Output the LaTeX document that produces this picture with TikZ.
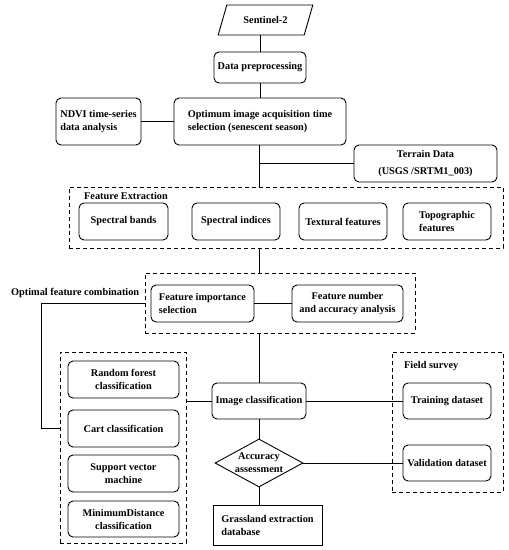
\documentclass[tikz,border=0pt]{standalone}
\usepackage{fontspec}
\setmainfont{Liberation Serif}
\usetikzlibrary{shapes.geometric}
\tikzset{
  every node/.style={font=\fontsize{10.3}{13}\selectfont\bfseries},
  box/.style={draw, line width=0.9pt, rounded corners=5pt, align=center, inner sep=2pt},
  sqbox/.style={draw, line width=0.9pt, align=left, inner sep=2pt},
  dbox/.style={draw, line width=0.9pt, dash pattern=on 4pt off 3pt, inner sep=0pt},
  lbl/.style={anchor=west, inner sep=0pt},
  conn/.style={line width=0.9pt},
}
\begin{document}
\begin{tikzpicture}[x=1pt, y=-1pt]
\useasboundingbox (0,0) rectangle (509,550);
\coordinate (tk) at (259,0);
\coordinate (ofcx) at (41,0);
% top chain
\node[trapezium, draw, line width=0.9pt, trapezium stretches=true, trapezium left angle=56, trapezium right angle=124, minimum width=95, minimum height=30, inner sep=0pt] (sent) at (265.5,20) {Sentinel-2};
\node[box, minimum width=92, minimum height=31] (prep) at (260,67.5) {Data preprocessing};
\node[box, minimum width=172, minimum height=47, align=left] (opt) at (260,121.5) {Optimum image acquisition time\\selection (senescent season)};
\node[box, minimum width=85, minimum height=47, align=left] (ndvi) at (98.5,121.5) {NDVI time-series\\data analysis};
\node[box, minimum width=143, minimum height=37, align=center, font=\fontsize{10.3}{17}\selectfont\bfseries] (terr) at (425.5,163.5) {Terrain Data\\(USGS /SRTM1\_003)};
% feature extraction
\node[dbox, minimum width=434, minimum height=61] (fe) at (286,217.5) {};
\node[lbl] (fel) at (84,196) {Feature Extraction};
\node[box, minimum width=89, minimum height=37] (sb) at (123.5,221.5) {Spectral bands};
\node[box, minimum width=88, minimum height=37] (si) at (236,221.5) {Spectral indices};
\node[box, minimum width=88, minimum height=37] (tf) at (343,221.5) {Textural features};
\node[box, minimum width=88, minimum height=37, align=left] (tp) at (447,221.5) {Topographic\\features};
% feature selection
\node[dbox, minimum width=270, minimum height=60] (fs) at (280,303) {};
\node[box, minimum width=103, minimum height=37, align=left] (fis) at (202.5,303.5) {Feature importance\\selection};
\node[box, minimum width=111, minimum height=37] (fna) at (347.5,303.5) {Feature number\\and accuracy analysis};
\node[lbl] (ofc) at (11,293) {Optimal feature combination};
% classifiers
\node[dbox, minimum width=126, minimum height=191] (cls) at (123,447.5) {};
\node[box, minimum width=111, minimum height=37] (rf) at (123.5,379.5) {Random forest\\classification};
\node[box, minimum width=111, minimum height=37] (cart) at (123.5,428.5) {Cart classification};
\node[box, minimum width=111, minimum height=37] (svm) at (123.5,473.5) {Support vector\\machine};
\node[box, minimum width=111, minimum height=36] (md) at (123.5,519) {MinimumDistance\\classification};
% center
\node[box, minimum width=94, minimum height=36] (ic) at (259,401) {Image classification};
\node[diamond, draw, line width=0.9pt, aspect=1.83, inner sep=-2.5pt, align=center, minimum width=88, minimum height=48] (acc) at (259,463) {Accuracy\\assessment};
\node[sqbox, minimum width=109, minimum height=40] (gl) at (267.5,525) {Grassland extraction\\database};
% field survey
\node[dbox, minimum width=111, minimum height=140] (fsv) at (447.5,422) {};
\node[lbl] (fsl) at (404,366) {Field survey};
\node[box, minimum width=88, minimum height=36] (td) at (447,401) {Training dataset};
\node[box, minimum width=88, minimum height=36] (vd) at (447,463) {Validation dataset};
% connectors
\draw[conn] (prep.north |- sent.south) -- (prep.north);
\draw[conn] (prep.south) -- (prep.south |- opt.north);
\draw[conn] (ndvi.east) -- (opt.west);
\draw[conn] (opt.south -| tk) -- (fe.north -| tk);
\draw[conn] (tk |- terr.west) -- (terr.west);
\draw[conn] (fe.south -| tk) -- (fs.north -| tk);
\draw[conn] (fis.east) -- (fna.west);
\draw[conn] (fs.west |- fis) -- (ofcx |- fis) |- (cls.west |- cart);
\draw[conn] (fs.south -| tk) -- (ic.north -| tk);
\draw[conn] (cls.east |- ic) -- (ic.west);
\draw[conn] (ic.east) -- (td.west);
\draw[conn] (ic.south -| acc.north) -- (acc.north);
\draw[conn] (acc.east) -- (vd.west);
\draw[conn] (acc.south) -- (acc.south |- gl.north);
\end{tikzpicture}
\end{document}
